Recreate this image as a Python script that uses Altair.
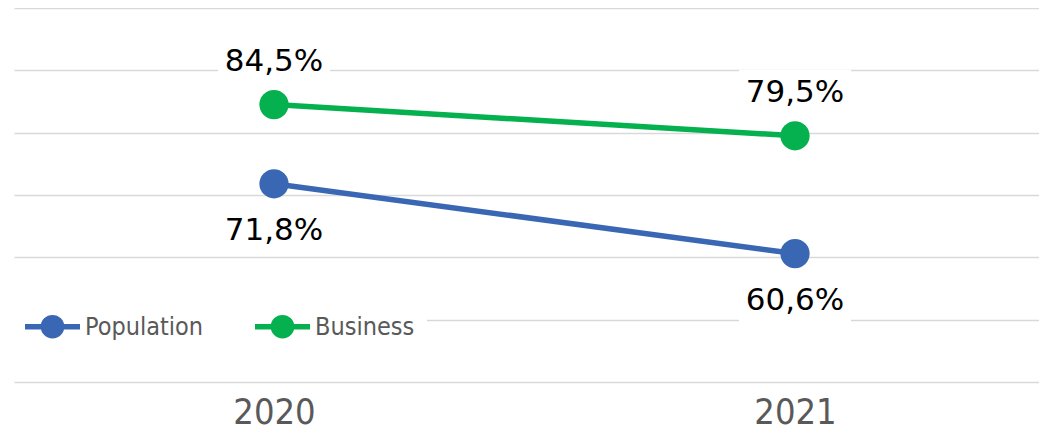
import altair as alt
import pandas as pd

years = [2020, 2021]
population = [71.8, 60.6]
business = [84.5, 79.5]
population_labels = ["71,8%", "60,6%"]
business_labels = ["84,5%", "79,5%"]
series_names = ["Population", "Business"]
series_colors = ["#3A67B3", "#05B04E"]

rows = []
for y, v, l in zip(years, population, population_labels):
    rows.append({"year": y, "value": v, "series": "Population", "label": l})
for y, v, l in zip(years, business, business_labels):
    rows.append({"year": y, "value": v, "series": "Business", "label": l})
df = pd.DataFrame(rows)

x_enc = alt.X("year:Q", scale=alt.Scale(domain=[2019.501, 2021.4683], nice=False, zero=False),
              axis=alt.Axis(values=years, format="d", title=None, grid=False, domain=False, ticks=False,
                            labelFont="Liberation Sans Narrow, DejaVu Sans Condensed, sans-serif",
                            labelFontSize=36, labelColor="#595959", labelPadding=41,
                            labelBaseline="alphabetic"))
y_enc = alt.Y("value:Q", scale=alt.Scale(domain=[40, 100], nice=False, zero=False),
              axis=alt.Axis(values=[40, 50, 60, 70, 80, 90, 100], title=None, labels=False, ticks=False,
                            domain=False, grid=True, gridColor="#D9D9D9", gridWidth=1.5))

color_scale = alt.Scale(domain=series_names, range=series_colors)
legend_path = "M-1,0L1,0M0.33,0A0.33,0.33,0,1,1,-0.33,0A0.33,0.33,0,1,1,0.33,0Z"
legend = alt.Legend(
    title=None, orient="none", direction="horizontal", legendX=-3, legendY=277,
    symbolType=legend_path, symbolSize=3025, symbolStrokeWidth=5.5, symbolOpacity=1,
    labelFont="DejaVu Sans Condensed, Liberation Sans Narrow, sans-serif", labelFontSize=25,
    labelColor="#595959", labelOffset=2, columnPadding=40, padding=11, fillColor="white",
    strokeColor="white",
)

base = alt.Chart(df)

line = base.mark_line(strokeWidth=5.5).encode(
    x=x_enc, y=y_enc,
    color=alt.Color("series:N", scale=color_scale, legend=legend),
    detail="series:N",
)
points = base.mark_circle(size=855, opacity=1).encode(
    x=x_enc, y=y_enc,
    color=alt.Color("series:N", scale=color_scale, legend=legend),
)

bus = base.transform_filter(alt.datum.series == "Business")
pop = base.transform_filter(alt.datum.series == "Population")

bus_box = bus.mark_rect(width=112, height=46, yOffset=-43, color="white").encode(x=x_enc, y=y_enc)
pop_box = pop.mark_rect(width=112, height=46, yOffset=47, color="white").encode(x=x_enc, y=y_enc)

text_props = dict(font="DejaVu Sans", fontSize=31, color="#000000", baseline="middle", align="center")
bus_text = bus.mark_text(dy=-43, **text_props).encode(x=x_enc, y=y_enc, text="label:N")
pop_text = pop.mark_text(dy=47, **text_props).encode(x=x_enc, y=y_enc, text="label:N")

chart = alt.layer(bus_box, pop_box, line, points, bus_text, pop_text).properties(
    width=1025, height=374,
    padding={"left": 6, "top": 0, "right": 0, "bottom": 48},
    autosize=alt.AutoSizeParams(type="none"),
    background="white",
).configure_view(stroke=None)

chart.save("out.html", embed_options={"renderer": "svg", "actions": False})
